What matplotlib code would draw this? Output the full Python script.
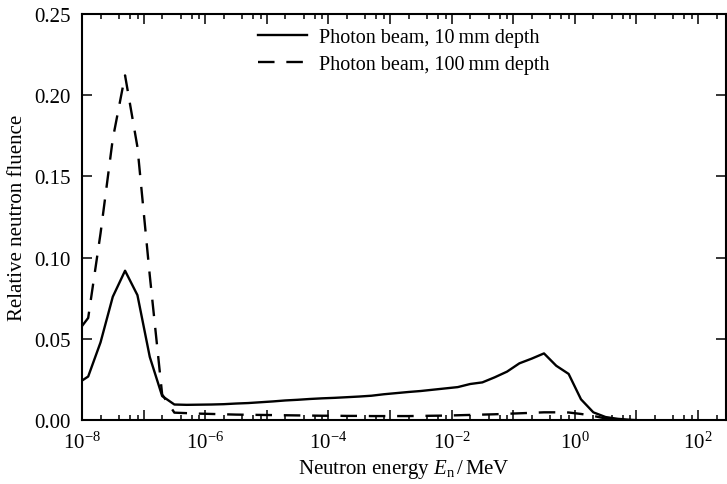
import numpy as np
import matplotlib
matplotlib.use("Agg")
import matplotlib.pyplot as plt
from matplotlib.ticker import LogLocator, NullFormatter

plt.rcParams['font.family'] = ['Liberation Serif', 'DejaVu Serif']
plt.rcParams['mathtext.fontset'] = 'custom'
plt.rcParams['mathtext.rm'] = 'Liberation Serif'
plt.rcParams['mathtext.it'] = 'Liberation Serif:italic'
plt.rcParams['font.size'] = 15

# neutron energy bins (MeV)
energy = [1.0e-8, 1.26e-8, 2.0e-8, 3.16e-8, 5.0e-8, 7.94e-8,
          1.26e-7, 2.0e-7, 3.16e-7, 5.0e-7, 7.94e-7,
          1.26e-6, 2.0e-6, 3.16e-6, 5.0e-6, 7.94e-6,
          1.26e-5, 2.0e-5, 3.16e-5, 5.0e-5, 7.94e-5,
          1.26e-4, 2.0e-4, 3.16e-4, 5.0e-4, 7.94e-4,
          1.26e-3, 2.0e-3, 3.16e-3, 5.0e-3, 7.94e-3,
          1.26e-2, 2.0e-2, 3.16e-2, 5.0e-2, 7.94e-2,
          1.26e-1, 2.0e-1, 3.16e-1, 5.0e-1, 7.94e-1,
          1.26, 2.0, 3.16, 5.0, 7.94, 12.6]

# relative fluence, 10 mm depth
fluence_10mm = [0.0245, 0.027, 0.048, 0.076, 0.092, 0.077,
                0.039, 0.015, 0.0098, 0.0096, 0.0097,
                0.0098, 0.0100, 0.0104, 0.0107, 0.0112,
                0.0117, 0.0123, 0.0127, 0.0132, 0.0136,
                0.0139, 0.0143, 0.0147, 0.0152, 0.0161,
                0.0168, 0.0175, 0.0181, 0.0189, 0.0197,
                0.0205, 0.0224, 0.0234, 0.0265, 0.0300,
                0.0351, 0.0380, 0.0412, 0.0336, 0.0286,
                0.0130, 0.0050, 0.0021, 0.0010, 0.0004, 0.0]

# relative fluence, 100 mm depth
fluence_100mm = [0.058, 0.063, 0.115, 0.173, 0.212, 0.168,
                 0.089, 0.016, 0.0048, 0.0045, 0.0042,
                 0.0040, 0.0038, 0.0036, 0.0035, 0.0034,
                 0.0033, 0.0032, 0.0031, 0.0030, 0.0029,
                 0.0029, 0.0028, 0.0028, 0.0027, 0.0027,
                 0.0027, 0.0027, 0.0028, 0.0029, 0.0030,
                 0.0032, 0.0034, 0.0036, 0.0038, 0.0041,
                 0.0044, 0.0047, 0.0050, 0.0050, 0.0049,
                 0.0040, 0.0028, 0.0012, 0.0003, 0.0001, 0.0]

decades = [1e-8, 1e-7, 1e-6, 1e-5, 1e-4, 1e-3, 1e-2, 1e-1, 1e0, 1e1, 1e2]
decade_labels = [r'$10^{-8}$', '', r'$10^{-6}$', '', r'$10^{-4}$', '',
                 r'$10^{-2}$', '', r'$10^{0}$', '', r'$10^{2}$']
yticks = [0.00, 0.05, 0.10, 0.15, 0.20, 0.25]

fig = plt.figure(figsize=(7.27, 4.85), dpi=100)
ax = fig.add_axes([0.1128, 0.131, 0.8852, 0.839])

ax.plot(energy, fluence_10mm, color='black', lw=1.7, label='Photon beam, 10\u2009mm depth')
ax.plot(energy, fluence_100mm, color='black', lw=1.7, linestyle=(0, (7, 5)),
        label='Photon beam, 100\u2009mm depth')

ax.set_xscale('log')
ax.set_xlim(1e-8, 280)
ax.set_ylim(0, 0.25)
ax.set_xticks(decades)
ax.set_xticklabels(decade_labels)
ax.xaxis.set_minor_locator(LogLocator(base=10, subs=(2, 4, 6, 8), numticks=30))
ax.xaxis.set_minor_formatter(NullFormatter())
ax.set_yticks(yticks)
ax.set_yticklabels(['%.2f' % v for v in yticks])

ax.tick_params(which='both', direction='in', top=True, right=True, width=1.1)
ax.tick_params(which='major', length=7, pad=8)
ax.tick_params(which='minor', length=3.5)
for s in ax.spines.values():
    s.set_linewidth(1.5)

ax.set_xlabel(r'Neutron energy $E_\mathrm{n}\,/\,$MeV', labelpad=3)
ax.set_ylabel('Relative neutron fluence', labelpad=5)

ax.legend(loc='upper left', bbox_to_anchor=(0.255, 0.995), frameon=False,
          handlelength=2.4, handletextpad=0.6, fontsize=14.5,
          borderaxespad=0.2, labelspacing=0.42)

fig.savefig('out.png', dpi=100)
